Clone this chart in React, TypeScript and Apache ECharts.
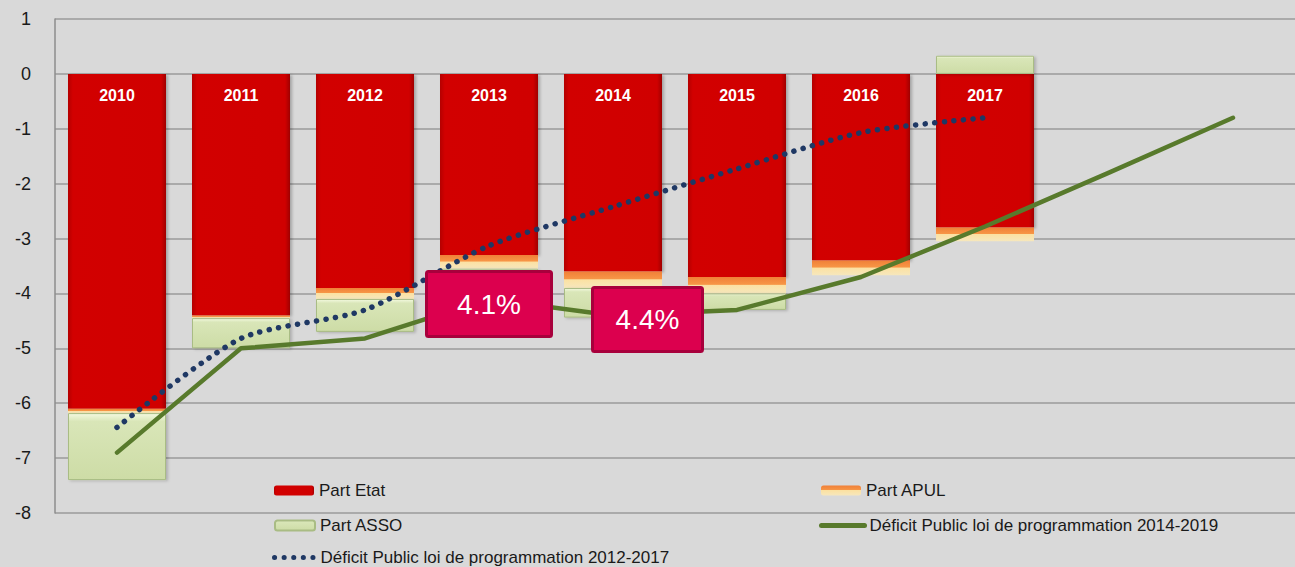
import React, { useEffect, useRef } from "react";
import * as echarts from "echarts";

const years = ["2010", "2011", "2012", "2013", "2014", "2015", "2016", "2017", "2018", "2019"];
const partEtat = [-6.1, -4.4, -3.9, -3.3, -3.6, -3.7, -3.4, -2.8];
const partAPUL = [-0.08, -0.05, -0.2, -0.25, -0.3, -0.3, -0.27, -0.25];
const partASSO = [-1.22, -0.55, -0.6, -0.55, -0.54, -0.3, 0, 0.33];
const deficit2014 = [-6.9, -5.0, -4.82, -4.1, -4.4, -4.3, -3.7, -2.78, -1.8, -0.8];
const deficit2012 = [-6.44, -4.82, -4.3, -3.13, -2.42, -1.73, -1.07, -0.8];
const yTicks = { min: -8, max: 1, interval: 1 };
const callouts = ["4.1%", "4.4%"];

const FONT = "'Liberation Sans', Arial, sans-serif";

export default function App() {
  const ref = useRef<HTMLDivElement>(null);
  useEffect(() => {
    document.body.style.margin = "0";
    const chart = echarts.init(ref.current!, null, { renderer: "svg" });
    const redGrad = new echarts.graphic.LinearGradient(0, 0, 1, 0, [
      { offset: 0, color: "#b40000" },
      { offset: 0.05, color: "#d20000" },
      { offset: 0.95, color: "#d00000" },
      { offset: 1, color: "#a00000" },
    ]);
    const apulGrad = new echarts.graphic.LinearGradient(0, 0, 0, 1, [
      { offset: 0, color: "#f08038" },
      { offset: 0.45, color: "#f79646" },
      { offset: 0.5, color: "#fbe1a2" },
      { offset: 1, color: "#f6e7bd" },
    ]);
    const assoGrad = new echarts.graphic.LinearGradient(0, 0, 0, 1, [
      { offset: 0, color: "#f3f9df" },
      { offset: 0.12, color: "#d9e6b8" },
      { offset: 1, color: "#cddca6" },
    ]);
    const legendText = { fontFamily: FONT, fontSize: 17, color: "#1a1a1a" };
    const mkLegend = (name: string, left: number, top: number, w = 40, h = 10, isLine = false) => ({
      data: [name],
      left,
      top,
      padding: 0,
      itemWidth: w,
      itemHeight: h,
      itemGap: 5,
      textStyle: legendText,
      selectedMode: false,
      ...(isLine ? { itemStyle: { opacity: 0 }, lineStyle: { width: 5 } } : {}),
    });
    const box = (x: number, y: number, w: number, h: number, text: string) => ({
      type: "group",
      left: x,
      top: y,
      z: 100,
      children: [
        {
          type: "rect",
          z: 100,
          shape: { x: 0, y: 0, width: w, height: h, r: 2 },
          style: { fill: "#dc004e", stroke: "#a8003c", lineWidth: 3 },
        },
        {
          type: "text",
          z: 101,
          x: w / 2,
          y: h / 2,
          style: {
            text,
            fill: "#ffffff",
            font: `28px ${FONT}`,
            textAlign: "center",
            textVerticalAlign: "middle",
          },
        },
      ],
    });
    chart.setOption({
      animation: false,
      backgroundColor: "#d9d9d9",
      grid: { left: 55, top: 19, width: 1255, height: 494 },
      xAxis: {
        type: "category",
        data: years,
        axisLine: { show: false },
        axisTick: { show: false },
        axisLabel: { show: false },
      },
      yAxis: {
        type: "value",
        min: yTicks.min,
        max: yTicks.max,
        interval: yTicks.interval,
        axisLine: { show: true, lineStyle: { color: "#8c8c8c", width: 1.5 } },
        axisTick: { show: false },
        axisLabel: { fontFamily: FONT, fontSize: 18, color: "#1a1a1a", margin: 24 },
        splitLine: { lineStyle: { color: "#9a9a9a", width: 1.5 } },
      },
      legend: [
        mkLegend("Part Etat", 274, 482),
        mkLegend("Part APUL", 821, 482),
        mkLegend("Part ASSO", 274, 517),
        mkLegend("Déficit Public loi de programmation 2014-2019", 819, 517, 43, 10, true),
        mkLegend("Déficit Public loi de programmation 2012-2017", 272, 549, 41, 10, true),
      ],
      series: [
        {
          name: "Part Etat",
          type: "bar",
          stack: "total",
          barWidth: 98,
          data: partEtat,
          itemStyle: {
            color: redGrad,
            shadowColor: "rgba(0,0,0,0.25)",
            shadowBlur: 3,
            shadowOffsetX: 2,
            shadowOffsetY: 1,
          },
          label: {
            show: true,
            position: "insideTop",
            distance: 14,
            formatter: (p: any) => p.name,
            color: "#ffffff",
            fontFamily: FONT,
            fontWeight: "bold",
            fontSize: 16,
          },
        },
        {
          name: "Part APUL",
          type: "bar",
          stack: "total",
          barWidth: 98,
          data: partAPUL,
          itemStyle: { color: apulGrad },
        },
        {
          name: "Part ASSO",
          type: "bar",
          stack: "total",
          barWidth: 98,
          data: partASSO,
          itemStyle: {
            color: assoGrad,
            borderColor: "#a9bc84",
            borderWidth: 1,
            shadowColor: "rgba(0,0,0,0.2)",
            shadowBlur: 3,
            shadowOffsetX: 2,
            shadowOffsetY: 1,
          },
        },
        {
          name: "Déficit Public loi de programmation 2014-2019",
          type: "line",
          data: deficit2014,
          symbol: "none",
          lineStyle: { color: "#587a2c", width: 4.5, cap: "round", join: "round" },
          itemStyle: { color: "#587a2c" },
          z: 5,
        },
        {
          name: "Déficit Public loi de programmation 2012-2017",
          type: "line",
          data: deficit2012,
          symbol: "none",
          smooth: 0.25,
          lineStyle: { color: "#1f3864", width: 5.5, type: [0.1, 9.5], cap: "round" },
          itemStyle: { color: "#1f3864" },
          z: 6,
        },
      ],
      graphic: [
        box(425, 270, 125, 65, callouts[0]),
        box(591, 286, 110, 64, callouts[1]),
      ],
    });
    return () => chart.dispose();
  }, []);
  return <div ref={ref} style={{ width: 1295, height: 567, position: "absolute", left: 0, top: 0 }} />;
}
